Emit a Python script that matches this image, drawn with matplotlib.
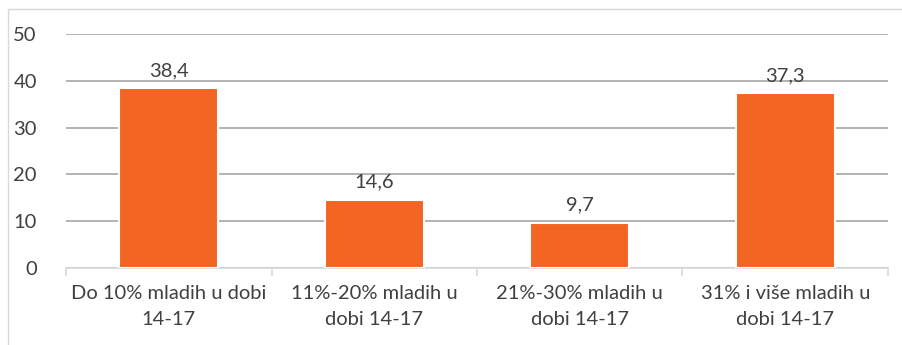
import matplotlib.pyplot as plt
from matplotlib.patches import Rectangle
import numpy as np

# kategorije i vrijednosti
kategorije = ["Do 10% mladih u dobi\n14-17", "11%-20% mladih u\ndobi 14-17",
              "21%-30% mladih u\ndobi 14-17", "31% i više mladih u\ndobi 14-17"]
vrijednosti = [38.4, 14.6, 9.7, 37.3]
oznake = ["38,4", "14,6", "9,7", "37,3"]
y_ticks = [0, 10, 20, 30, 40, 50]

plt.rcParams['font.family'] = ['Lato', 'DejaVu Sans']
tekst = "#404040"

fig = plt.figure(figsize=(9.03, 3.45), dpi=100)
ax = fig.add_axes([66/903, 1 - 268/345, (888-66)/903, (268-34)/345])

x = np.arange(len(vrijednosti))
ax.bar(x, vrijednosti, width=0.48, color="#F26522", edgecolor="white", linewidth=1.5, zorder=3)

for xi, v, s in zip(x, vrijednosti, oznake):
    ax.text(xi, v + 2.0, s, ha="center", va="bottom", fontsize=14.5, color=tekst)

ax.set_xlim(-0.5, len(vrijednosti) - 0.5)
ax.set_ylim(0, 50)
ax.set_yticks(y_ticks)
ax.set_yticklabels([str(t) for t in y_ticks], fontsize=14.5, color=tekst)
ax.tick_params(axis="y", length=0, pad=21)
ax.grid(axis="y", color="#A6A6A6", linewidth=1.2, zorder=0)

ax.set_xticks(x)
ax.set_xticklabels(kategorije, fontsize=14.5, color=tekst, linespacing=1.65)
ax.set_xticks(np.arange(-0.5, len(vrijednosti)), minor=True)
ax.tick_params(axis="x", which="major", length=0, pad=12)
ax.tick_params(axis="x", which="minor", length=6, color="#D9D9D9", width=1.2)

for side in ["top", "right", "left"]:
    ax.spines[side].set_visible(False)
ax.spines["bottom"].set_color("#D9D9D9")
ax.spines["bottom"].set_linewidth(1.2)

# okvir grafikona
fig.patches.append(Rectangle((8/903, -0.1), 1.2, 1 - 9/345 + 0.1, transform=fig.transFigure,
                             fill=False, edgecolor="#D9D9D9", linewidth=1.0))

fig.savefig("out.png", dpi=100)
